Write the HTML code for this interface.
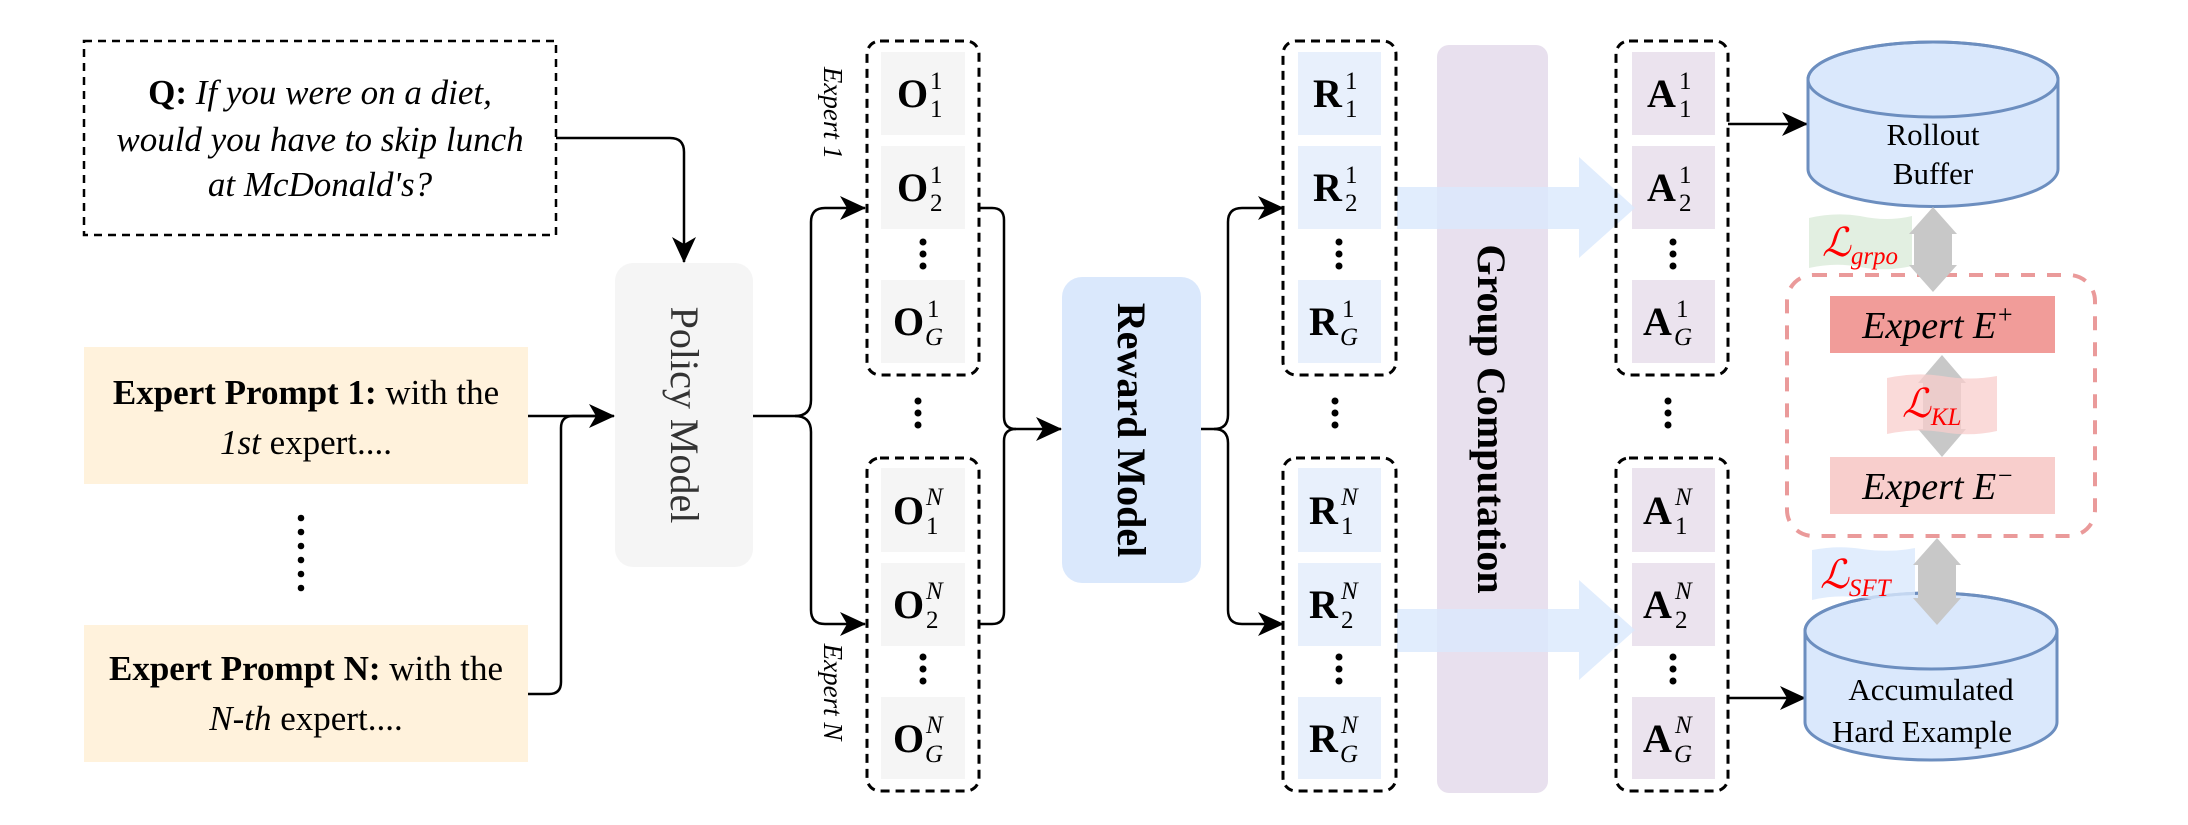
<!DOCTYPE html>
<html><head><meta charset="utf-8"><style>
html,body{margin:0;padding:0;background:#fff;}
svg{display:block;font-family:"Times New Roman","Liberation Serif",Times,serif;}
svg text, svg tspan{font-family:"Times New Roman","Liberation Serif",Times,serif;}
.m{font-size:40px;font-weight:bold;}
.s{font-size:25px;font-weight:normal;}
.i{font-style:italic;}
</style></head><body>
<svg width="2188" height="825" viewBox="0 0 2188 825" xmlns="http://www.w3.org/2000/svg">
<defs>
<marker id="ah2" markerWidth="26" markerHeight="24" refX="25" refY="12" orient="auto" markerUnits="userSpaceOnUse">
<path d="M0,0 L26,12 L0,24 L7,12 z" fill="#000"/>
</marker>
</defs>

<rect x="84" y="41" width="472" height="194" fill="#fff" stroke="#000" stroke-width="2.5" stroke-dasharray="8,6"/>
<text x="320" y="104" font-size="35" text-anchor="middle"><tspan font-weight="bold">Q:</tspan><tspan class="i"> If you were on a diet,</tspan></text>
<text x="320" y="151" font-size="35" text-anchor="middle" class="i">would you have to skip lunch</text>
<text x="320" y="196" font-size="35" text-anchor="middle" class="i">at McDonald's?</text>

<rect x="84" y="347" width="444" height="137" fill="#fff2dc"/>
<text x="306" y="404" font-size="35" text-anchor="middle"><tspan font-weight="bold">Expert Prompt 1:</tspan> with the</text>
<text x="306" y="454" font-size="35" text-anchor="middle"><tspan class="i">1st</tspan> expert....</text>
<rect x="84" y="625" width="444" height="137" fill="#fff2dc"/>
<text x="306" y="680" font-size="35" text-anchor="middle"><tspan font-weight="bold">Expert Prompt N:</tspan> with the</text>
<text x="306" y="730" font-size="35" text-anchor="middle"><tspan class="i">N-th</tspan> expert....</text>
<g fill="#000"><circle cx="301" cy="518" r="3.3"/><circle cx="301" cy="532" r="3.3"/><circle cx="301" cy="546" r="3.3"/><circle cx="301" cy="560" r="3.3"/><circle cx="301" cy="574" r="3.3"/><circle cx="301" cy="588" r="3.3"/></g>

<rect x="615" y="263" width="138" height="304" rx="18" fill="#f5f5f5"/>
<text transform="translate(671,415) rotate(90)" font-size="40" fill="#333" text-anchor="middle">Policy  Model</text>

<g fill="none" stroke="#000" stroke-width="2.5">
<path d="M556,138 H670 Q684,138 684,152 V262" marker-end="url(#ah2)"/>
<path d="M528,416 H614" marker-end="url(#ah2)"/>
<path d="M528,694 H549 Q561,694 561,682 V428 Q561,416 573,416 H600"/>
<path d="M753,416 H795 Q811,416 811,400 V222 Q811,208 825,208 H865" marker-end="url(#ah2)"/>
<path d="M795,416 Q811,416 811,432 V610 Q811,624 825,624 H865" marker-end="url(#ah2)"/>
<path d="M979,208 H992 Q1004,208 1004,220 V417 Q1004,429 1016,429 H1061" marker-end="url(#ah2)"/>
<path d="M979,624 H992 Q1004,624 1004,612 V441 Q1004,429 1016,429"/>
<path d="M1201,429 H1214 Q1228,429 1228,415 V222 Q1228,208 1242,208 H1283" marker-end="url(#ah2)"/>
<path d="M1214,429 Q1228,429 1228,443 V610 Q1228,624 1242,624 H1283" marker-end="url(#ah2)"/>
<path d="M1728,124 H1807" marker-end="url(#ah2)"/>
<path d="M1728,698 H1805" marker-end="url(#ah2)"/>
</g>

<text transform="translate(824,113) rotate(90)" font-size="27" class="i" text-anchor="middle">Expert 1</text>
<text transform="translate(824,692) rotate(90)" font-size="27" class="i" text-anchor="middle">Expert N</text>

<g fill="#f5f5f5"><rect x="881" y="52" width="84" height="83"/><rect x="881" y="146" width="84" height="83"/><rect x="881" y="280" width="84" height="83"/><rect x="881" y="468" width="84" height="84"/><rect x="881" y="563" width="84" height="83"/><rect x="881" y="697" width="84" height="82"/></g>
<g fill="#e8f0fc"><rect x="1298" y="52" width="83" height="83"/><rect x="1298" y="146" width="83" height="83"/><rect x="1298" y="280" width="83" height="83"/><rect x="1298" y="468" width="83" height="84"/><rect x="1298" y="563" width="83" height="83"/><rect x="1298" y="697" width="83" height="82"/></g>
<g fill="#ebe3ee"><rect x="1632" y="52" width="83" height="83"/><rect x="1632" y="146" width="83" height="83"/><rect x="1632" y="280" width="83" height="83"/><rect x="1632" y="468" width="83" height="84"/><rect x="1632" y="563" width="83" height="83"/><rect x="1632" y="697" width="83" height="82"/></g>

<rect x="1437" y="45" width="111" height="748" rx="12" fill="#e8e0ee"/>
<text transform="translate(1478,419) rotate(90)" font-size="40" font-weight="bold" text-anchor="middle">Group Computation</text>
<g fill="#dae8fc" opacity="0.8">
<polygon points="1397,187 1579,187 1579,157 1635,208 1579,258 1579,229 1397,229"/>
<polygon points="1397,609 1579,609 1579,580 1635,630 1579,680 1579,652 1397,652"/>
</g>

<g fill="none" stroke="#000" stroke-width="3" stroke-dasharray="9,6">
<rect x="867" y="41" width="112" height="334" rx="13"/>
<rect x="867" y="458" width="112" height="333" rx="13"/>
<rect x="1283" y="41" width="113" height="334" rx="13"/>
<rect x="1283" y="458" width="113" height="333" rx="13"/>
<rect x="1616" y="41" width="112" height="334" rx="13"/>
<rect x="1616" y="458" width="112" height="333" rx="13"/>
</g>

<rect x="1062" y="277" width="139" height="306" rx="20" fill="#dae8fc"/>
<text transform="translate(1118,430) rotate(90)" font-size="40" font-weight="bold" text-anchor="middle">Reward Model</text>

<g fill="#000">
<circle cx="923" cy="242" r="3.5"/><circle cx="923" cy="254" r="3.5"/><circle cx="923" cy="266" r="3.5"/>
<circle cx="923" cy="657" r="3.5"/><circle cx="923" cy="669" r="3.5"/><circle cx="923" cy="681" r="3.5"/>
<circle cx="918" cy="401" r="3.5"/><circle cx="918" cy="413" r="3.5"/><circle cx="918" cy="425" r="3.5"/>
<circle cx="1339" cy="242" r="3.5"/><circle cx="1339" cy="254" r="3.5"/><circle cx="1339" cy="266" r="3.5"/>
<circle cx="1339" cy="657" r="3.5"/><circle cx="1339" cy="669" r="3.5"/><circle cx="1339" cy="681" r="3.5"/>
<circle cx="1335" cy="401" r="3.5"/><circle cx="1335" cy="413" r="3.5"/><circle cx="1335" cy="425" r="3.5"/>
<circle cx="1673" cy="242" r="3.5"/><circle cx="1673" cy="254" r="3.5"/><circle cx="1673" cy="266" r="3.5"/>
<circle cx="1673" cy="657" r="3.5"/><circle cx="1673" cy="669" r="3.5"/><circle cx="1673" cy="681" r="3.5"/>
<circle cx="1668" cy="401" r="3.5"/><circle cx="1668" cy="413" r="3.5"/><circle cx="1668" cy="425" r="3.5"/>
</g>

<text x="897" y="107" class="m">O<tspan class="s" x="930" y="89">1</tspan><tspan class="s" x="930" y="117">1</tspan></text>
<text x="897" y="201" class="m">O<tspan class="s" x="930" y="183">1</tspan><tspan class="s" x="930" y="211">2</tspan></text>
<text x="893" y="335" class="m">O<tspan class="s" x="927" y="317">1</tspan><tspan class="s i" x="925" y="345">G</tspan></text>
<text x="893" y="524" class="m">O<tspan class="s i" x="926" y="505">N</tspan><tspan class="s" x="926" y="534">1</tspan></text>
<text x="893" y="618" class="m">O<tspan class="s i" x="926" y="599">N</tspan><tspan class="s" x="926" y="628">2</tspan></text>
<text x="893" y="752" class="m">O<tspan class="s i" x="926" y="733">N</tspan><tspan class="s i" x="925" y="762">G</tspan></text>
<text x="1313" y="107" class="m">R<tspan class="s" x="1345" y="89">1</tspan><tspan class="s" x="1345" y="117">1</tspan></text>
<text x="1313" y="201" class="m">R<tspan class="s" x="1345" y="183">1</tspan><tspan class="s" x="1345" y="211">2</tspan></text>
<text x="1309" y="335" class="m">R<tspan class="s" x="1342" y="317">1</tspan><tspan class="s i" x="1340" y="345">G</tspan></text>
<text x="1309" y="524" class="m">R<tspan class="s i" x="1341" y="505">N</tspan><tspan class="s" x="1341" y="534">1</tspan></text>
<text x="1309" y="618" class="m">R<tspan class="s i" x="1341" y="599">N</tspan><tspan class="s" x="1341" y="628">2</tspan></text>
<text x="1309" y="752" class="m">R<tspan class="s i" x="1341" y="733">N</tspan><tspan class="s i" x="1340" y="762">G</tspan></text>
<text x="1647" y="107" class="m">A<tspan class="s" x="1679" y="89">1</tspan><tspan class="s" x="1679" y="117">1</tspan></text>
<text x="1647" y="201" class="m">A<tspan class="s" x="1679" y="183">1</tspan><tspan class="s" x="1679" y="211">2</tspan></text>
<text x="1643" y="335" class="m">A<tspan class="s" x="1676" y="317">1</tspan><tspan class="s i" x="1674" y="345">G</tspan></text>
<text x="1643" y="524" class="m">A<tspan class="s i" x="1675" y="505">N</tspan><tspan class="s" x="1675" y="534">1</tspan></text>
<text x="1643" y="618" class="m">A<tspan class="s i" x="1675" y="599">N</tspan><tspan class="s" x="1675" y="628">2</tspan></text>
<text x="1643" y="752" class="m">A<tspan class="s i" x="1675" y="733">N</tspan><tspan class="s i" x="1674" y="762">G</tspan></text>

<g stroke="#6c8ebf" stroke-width="3" fill="#dae8fc">
<path d="M1808,79.5 A125,37.5 0 0 1 2058,79.5 V169 A125,37.5 0 0 1 1808,169 Z"/>
<ellipse cx="1933" cy="79.5" rx="125" ry="37.5" fill="none"/>
<path d="M1805,631 A126,38 0 0 1 2057,631 V722 A126,38 0 0 1 1805,722 Z"/>
<ellipse cx="1931" cy="631" rx="126" ry="38" fill="none"/>
</g>
<text x="1933" y="145" font-size="31" text-anchor="middle">Rollout</text>
<text x="1933" y="184" font-size="31" text-anchor="middle">Buffer</text>
<text x="1931" y="700" font-size="31" text-anchor="middle">Accumulated</text>
<text x="1922" y="742" font-size="31" text-anchor="middle">Hard Example</text>

<rect x="1787" y="275" width="308" height="261" rx="26" fill="none" stroke="#ea9a9a" stroke-width="4" stroke-dasharray="14,12"/>
<rect x="1830" y="296" width="225" height="57" fill="#f19c99"/>
<rect x="1830" y="457" width="225" height="57" fill="#f8cecc"/>
<text x="1938" y="338" font-size="38" class="i" text-anchor="middle">Expert E<tspan font-size="26" dy="-15">+</tspan></text>
<text x="1938" y="499" font-size="38" class="i" text-anchor="middle">Expert E<tspan font-size="26" dy="-15">−</tspan></text>

<path d="M1809,218 Q1835,212 1860,216 Q1888,222 1912,216 V266 Q1885,272 1860,267 Q1835,262 1809,268 Z" fill="#d5e8d4" opacity="0.7"/>
<path d="M1812,550 Q1838,545 1862,549 Q1890,553 1915,548 V598 Q1888,602 1862,598 Q1838,594 1812,600 Z" fill="#dae8fc" opacity="0.8"/>

<g fill="#c8c8c8">
<polygon points="1933,207 1957,234 1952,234 1952,265 1957,265 1933,292 1909,265 1914,265 1914,234 1909,234"/>
<polygon points="1942,355 1966,383 1961,383 1961,429 1966,429 1942,457 1918,429 1923,429 1923,383 1918,383"/>
<polygon points="1937,538 1961,565 1956,565 1956,598 1961,598 1937,625 1913,598 1918,598 1918,565 1913,565"/>
</g>
<path d="M1887,378 Q1915,372 1942,376 Q1970,381 1997,376 V431 Q1970,437 1942,432 Q1915,428 1887,434 Z" fill="#f8cecc" opacity="0.75"/>

<text x="1822" y="256" font-size="40" fill="#f00" class="i">ℒ<tspan font-size="25" dy="8">grpo</tspan></text>
<text x="1902" y="417" font-size="40" fill="#f00" class="i">ℒ<tspan font-size="25" dy="8">KL</tspan></text>
<text x="1820" y="588" font-size="40" fill="#f00" class="i">ℒ<tspan font-size="25" dy="8">SFT</tspan></text>
</svg>
</body></html>
